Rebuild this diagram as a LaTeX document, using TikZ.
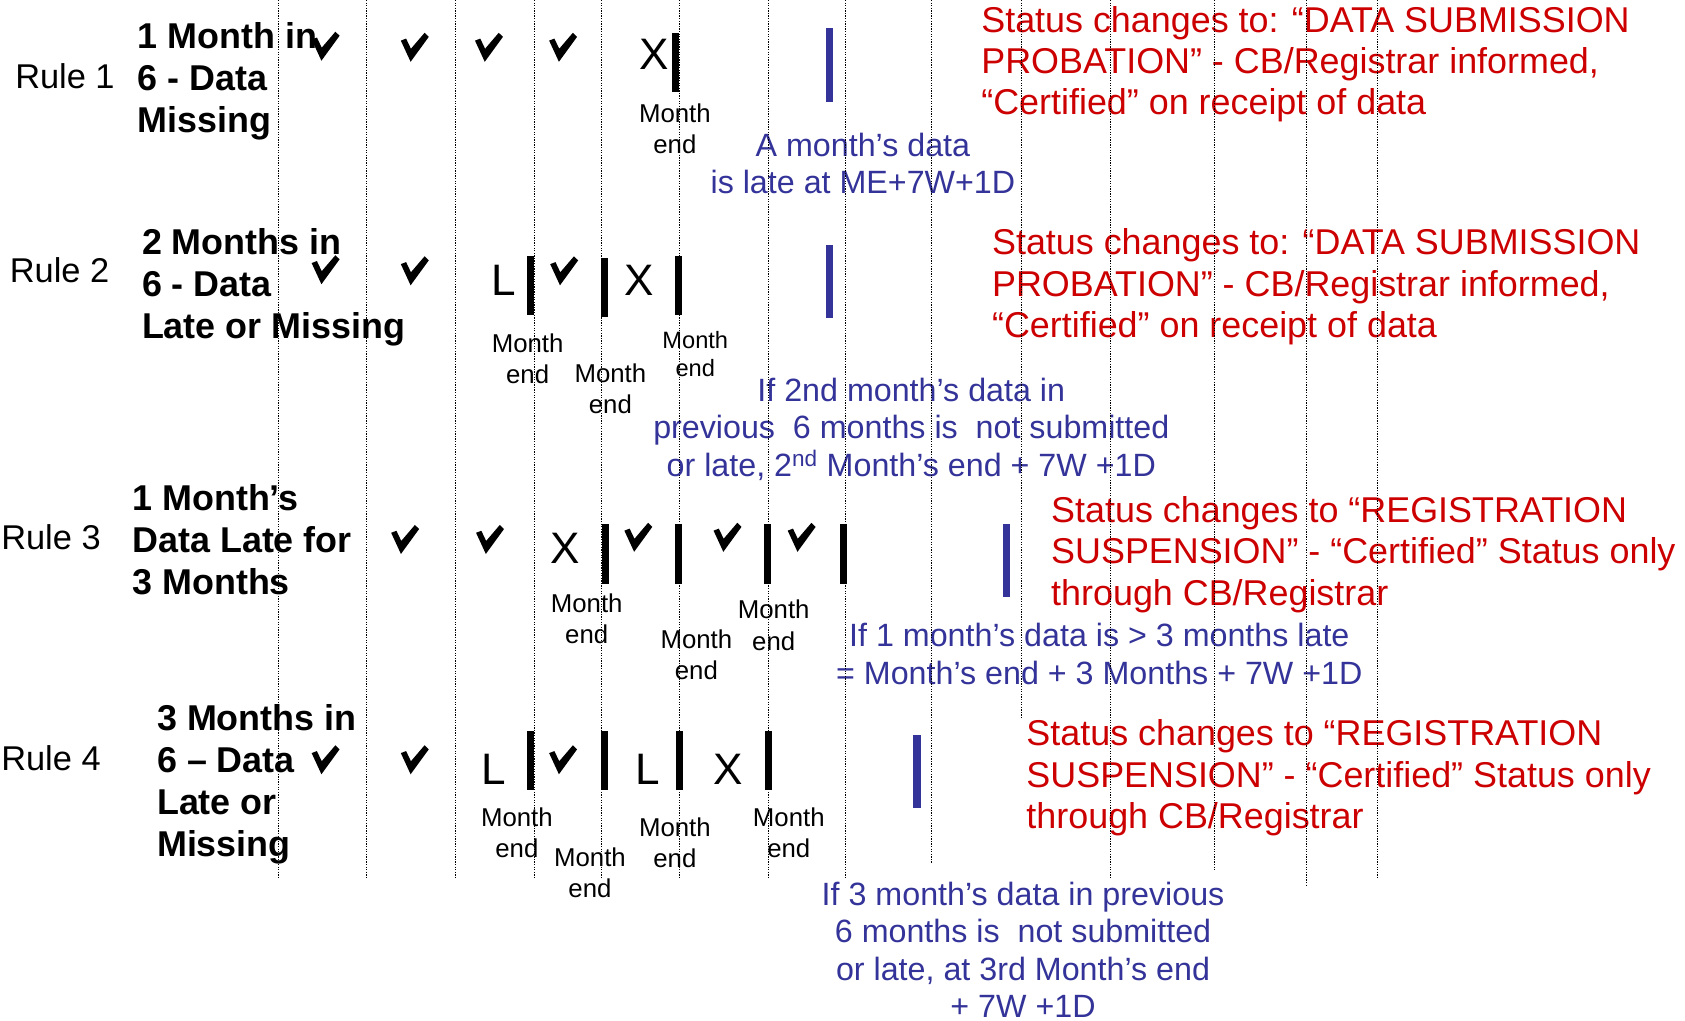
\documentclass[tikz,border=0pt]{standalone}
\usepackage{fontspec}
\setmainfont{Liberation Sans}
\definecolor{rred}{RGB}{204,0,0}
\definecolor{bblue}{RGB}{51,51,153}
\tikzset{
 rulelbl/.style={anchor=base west, inner sep=0, font=\fontsize{32}{37}\selectfont},
 ttl/.style={anchor=base west, inner sep=0, align=left, font=\fontsize{33.4}{39}\selectfont\bfseries},
 status/.style={anchor=base west, inner sep=0, align=left, text=rred, font=\fontsize{33.4}{38.5}\selectfont},
 note/.style={anchor=base, inner sep=0, align=center, text=bblue, font=\fontsize{30}{34.5}\selectfont},
 mend/.style={anchor=base, inner sep=0, align=center, font=\fontsize{24}{29}\selectfont},
 mends/.style={mend, font=\fontsize{22}{26}\selectfont},
 symb/.style={inner sep=0, font=\fontsize{41}{41}\selectfont},
 mbar/.style={fill=black, inner sep=0, minimum width=6.5pt, minimum height=55pt},
 dbar/.style={fill=bblue, inner sep=0, minimum width=7pt, minimum height=68pt},
 gridline/.style={dash pattern=on 1.2pt off 1.2pt, line width=0.9pt},
 chk/.pic={\fill (-13,-6.2) -- (-8.1,-8.1) -- (-3.6,1.35) -- (9.1,-13.5) -- (13,-9.7) -- (-3.9,13.5) -- cycle;}
}
\begin{document}
\begin{tikzpicture}[x=1pt,y=-1pt]
\useasboundingbox (0,0) rectangle (1568,950);
% Rule labels
\node[rulelbl] (r1) at (14,82) {Rule 1};
\node[rulelbl] (r2) at (9,263) {Rule 2};
\node[rulelbl] (r3) at (1,511) {Rule 3};
\node[rulelbl] (r4) at (1,717) {Rule 4};
% Titles (anchored at baseline of last line)
\node[ttl] (t1) at (128,123) {1 Month in\\6 - Data\\Missing};
\node[ttl] (t2) at (132,315) {2 Months in\\6 - Data\\Late or Missing};
\node[ttl] (t3) at (123,553) {1 Month’s\\Data Late for\\3 Months};
\node[ttl] (t4) at (146,797) {3 Months in\\6 – Data\\Late or\\Missing};
% Status texts
\node[status] (s1) at (913,107) {Status changes to: “DATA SUBMISSION\\PROBATION” - CB/Registrar informed,\\“Certified” on receipt of data};
\node[status] (s2) at (923,314) {Status changes to: “DATA SUBMISSION\\PROBATION” - CB/Registrar informed,\\“Certified” on receipt of data};
\node[status] (s3) at (978,563) {Status changes to “REGISTRATION\\SUSPENSION” - “Certified” Status only\\through CB/Registrar};
\node[status] (s4) at (955,771) {Status changes to “REGISTRATION\\SUSPENSION” - “Certified” Status only\\through CB/Registrar};
% Notes
\node[note] (n1) at (803,180.5) {A month’s data\\is late at ME+7W+1D};
\node[note] (n2) at (848,443) {If 2nd month’s data in\\previous\ \ 6 months is\ \ not submitted\\or late, 2\textsuperscript{nd} Month’s end + 7W +1D};
\node[note] (n3) at (1023,636.5) {If 1 month’s data is > 3 months late\\= Month’s end + 3 Months + 7W +1D};
\node[note] (n4) at (952,946.5) {If 3 month’s data in previous\\6 months is\ \ not submitted\\or late, at 3rd Month’s end\\+ 7W +1D};
% Month end labels
\node[mend] (m11) at (628,143) {Month\\end};
\node[mend] (m21) at (491,357) {Month\\end};
\node[mend] (m22) at (568,385) {Month\\end};
\node[mends] (m23) at (647,350) {Month\\end};
\node[mend] (m31) at (546,599) {Month\\end};
\node[mend] (m32) at (648,632) {Month\\end};
\node[mend] (m33) at (720,605) {Month\\end};
\node[mend] (m41) at (481,798) {Month\\end};
\node[mend] (m42) at (549,835) {Month\\end};
\node[mend] (m43) at (628,807) {Month\\end};
\node[mend] (m44) at (734,798) {Month\\end};
% X / L symbols
\node[symb] (x1) at (609,51) {X};
\node[symb] (l2) at (469,261) {L};
\node[symb] (x2) at (595,261) {X};
\node[symb] (x3) at (526,510) {X};
\node[symb] (l4a) at (459,716) {L};
\node[symb] (l4b) at (603,716) {L};
\node[symb] (x4) at (678,716) {X};
% month-end bars
\node[mbar] (b11) at (628.5,58.5) {};
\node[dbar] (d1) at (772,60.5) {};
\node[mbar] (b21) at (493.5,265.5) {};
\node[mbar] (b22) at (562.5,267.5) {};
\node[mbar] (b23) at (631.5,265.5) {};
\node[dbar] (d2) at (772,262) {};
\node[mbar] (b31) at (563,515.5) {};
\node[mbar] (b32) at (631,515.5) {};
\node[mbar] (b33) at (714.5,515.5) {};
\node[mbar] (b34) at (784.5,515.5) {};
\node[dbar] (d3) at (936.5,521.5) {};
\node[mbar] (b41) at (494,708) {};
\node[mbar] (b42) at (562.5,708) {};
\node[mbar] (b43) at (632.5,708) {};
\node[mbar] (b44) at (715.5,708) {};
\node[dbar] (d4) at (853.5,717.5) {};
% checkmarks
\foreach \cx/\cy in {303/43,386/44,455/44,524/44,
                     303/251,386/252,525/252,
                     377/502,456/502,594/500,677/500,746/500,
                     303/707,386/707,524/707}
  \pic at (\cx,\cy) {chk};
% dotted month grid
\foreach \gx/\gb in {259/818,341/818,424/818,497/818,560/818,632/818,715/818,787/818,867/803,951/669,1033/818,1130/811,1216/825,1282/818}
  \draw[gridline] (\gx,0) -- (\gx,\gb);
\end{tikzpicture}
\end{document}
